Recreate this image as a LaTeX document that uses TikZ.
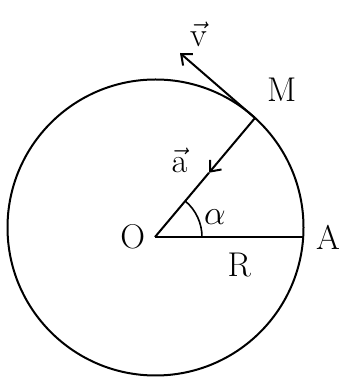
\documentclass[tikz,border=0pt]{standalone}
\usepackage{graphicx}
\usepackage{tikz}
\usetikzlibrary{arrows.meta,positioning,calc,angles}

\newcommand{\picsym}[1]{\scalebox{1.38}{#1}}

\begin{document}
\begin{tikzpicture}[
  x=1pt, y=1pt,
  line width=2pt,
  lbl/.style={font=\fontsize{24.88}{30}\selectfont, inner sep=0pt},
  >={Straight Barb[length=9pt, width=15pt]}
]
\useasboundingbox (0,0) rectangle (359,385);

\coordinate (C) at (155.5,157.5);
\coordinate (O) at (155,148);
\coordinate (A) at (303,148);
\coordinate (M) at (255,267);
\coordinate (vtip) at (180,332);
\coordinate (ahead) at ($(M)!0.46!(O)$);

\draw (C) circle [radius=148];
\draw (O) -- (A);
\draw[->] (M) -- (ahead);
\draw (ahead) -- (O);
\draw[->] (M) -- (vtip);
\pic[draw, line width=1.6pt, angle radius=47pt] {angle=A--O--M};

\node[lbl, left=9pt of O] (labO) {\picsym{O}};
\node[lbl, right=12pt of A] (labA) {\picsym{A}};
\node[lbl, above right=15pt and 11pt of M] (labM) {\picsym{M}};
\node[lbl, above right=5pt and 9pt of vtip] (labv) {\picsym{$\vec{\mathrm{v}}$}};
\node[lbl, left=21pt of ahead, anchor=base east] (laba) {\picsym{$\vec{\mathrm{a}}$}};
\node[lbl, above right=12pt and 48pt of O, anchor=base west] (labalpha) {\picsym{$\alpha$}};
\node[lbl, below=15pt of {$(O)!0.57!(A)$}] (labR) {\picsym{R}};

\end{tikzpicture}
\end{document}
